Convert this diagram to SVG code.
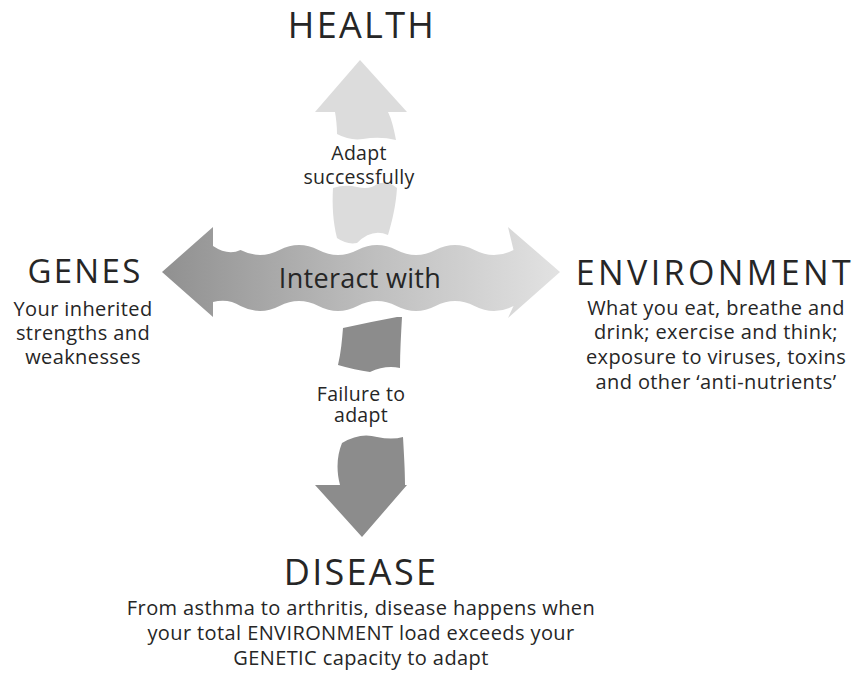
<svg xmlns="http://www.w3.org/2000/svg" width="859" height="677" viewBox="0 0 859 677">
<defs>
<linearGradient id="hgrad" gradientUnits="userSpaceOnUse" x1="162" y1="0" x2="560" y2="0">
<stop offset="0" stop-color="#909090"/>
<stop offset="0.5" stop-color="#bcbcbc"/>
<stop offset="1" stop-color="#e2e2e2"/>
</linearGradient>
<style>
text{font-family:"Open Sans","Noto Sans","DejaVu Sans",sans-serif;fill:#262626;text-anchor:middle}
.big{font-size:36px;letter-spacing:2.3px}
.mid{font-size:33px}
.sm{font-size:20px;letter-spacing:0.4px}
.lbl{font-size:19.5px;letter-spacing:0.3px}
.up{fill:#dcdcdc}
.down{fill:#8c8c8c}
</style>
</defs>
<rect width="859" height="677" fill="#ffffff"/>
<g id="connectors">
<g id="arrow-interact">
<path fill="url(#hgrad)" d="M162,272 L213,227 L213,246 Q228,256 240.5,250 Q260,260 279.5,250 T318.5,250 T357.5,250 T396.5,250 T435.5,250 T474.5,250 T513.5,250 L508,227 L560,272 L508,318 L513.5,306 Q494,316 474.5,306 T435.5,306 T396.5,306 T357.5,306 T318.5,306 T279.5,306 T240.5,306 Q228,298 213,302 L213,317 Z"/>
<text x="360" y="288" style="font-size:27px;letter-spacing:0.3px">Interact with</text>
</g>
<g id="arrow-health">
<path class="up" d="M360,60 L407,112 L388,112 C392,120 394,130 396,140 Q380,136 363,139 Q350,141 337,134 C337,126 336,118 335,112 L315,112 Z"/>
<path class="up" d="M333,188 Q345,184 357,187 Q370,190 377,184 Q388,180 397,188 C396,205 392,222 388,235 Q372,228 357,243 Q347,245 337,238 C333,222 332,205 333,188 Z"/>
<text class="lbl" x="359" y="160">Adapt</text>
<text class="lbl" x="359" y="184">successfully</text>
</g>
<g id="arrow-disease">
<path class="down" d="M343,328 Q370,322 397,317 L402,317 C401,335 400,352 400,368 Q385,365 370,372 Q355,370 338,365 C341,352 342,340 343,328 Z"/>
<path class="down" d="M342,443 Q360,432 377,437 Q392,440 403,437 C404,455 405,470 405,485 L407,485 L362,537 L315,485 L340,485 C336,470 337,455 342,443 Z"/>
<text class="lbl" x="361" y="401">Failure to</text>
<text class="lbl" x="361" y="422">adapt</text>
</g>
</g>
<g id="health">
<text class="big" x="362" y="38">HEALTH</text>
</g>
<g id="genes">
<text class="mid" x="85" y="283" style="letter-spacing:2.3px">GENES</text>
<text class="sm" x="83" y="316">Your inherited</text>
<text class="sm" x="83" y="340">strengths and</text>
<text class="sm" x="83" y="364">weaknesses</text>
</g>
<g id="environment">
<text class="mid" x="715" y="285" style="font-size:34px;letter-spacing:3.4px">ENVIRONMENT</text>
<text class="sm" x="716" y="315">What you eat, breathe and</text>
<text class="sm" x="716" y="339">drink; exercise and think;</text>
<text class="sm" x="716" y="364">exposure to viruses, toxins</text>
<text class="sm" x="716" y="389">and other ‘anti-nutrients’</text>
</g>
<g id="disease">
<text class="big" x="361" y="585">DISEASE</text>
<text class="sm" x="361" y="615">From asthma to arthritis, disease happens when</text>
<text class="sm" x="361" y="640">your total ENVIRONMENT load exceeds your</text>
<text class="sm" x="361" y="665">GENETIC capacity to  adapt</text>
</g>
</svg>
